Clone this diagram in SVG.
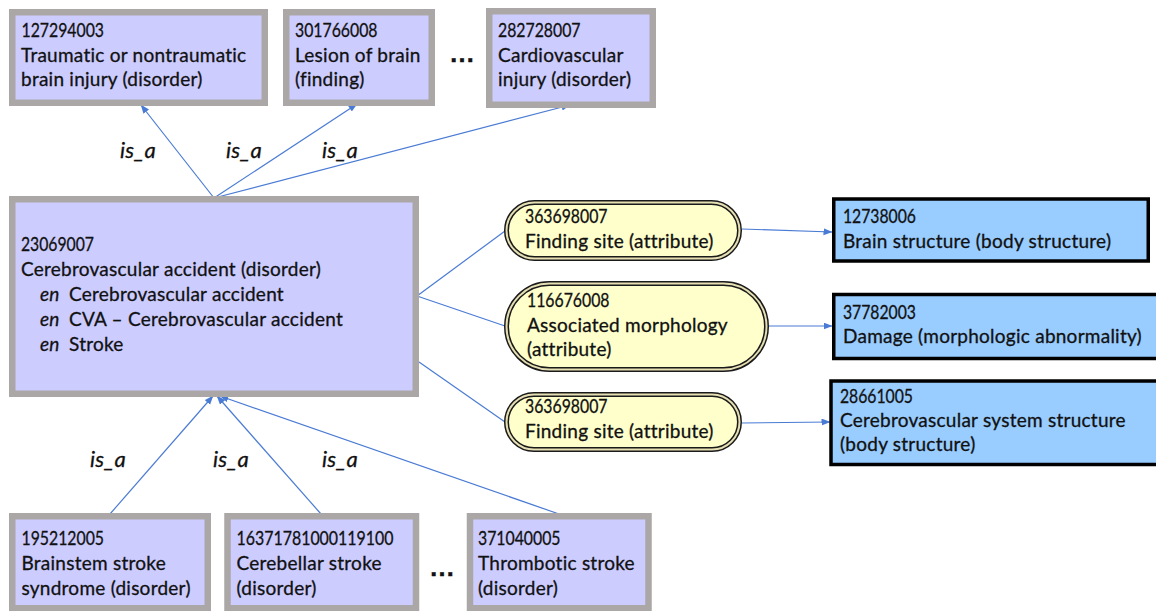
<svg xmlns="http://www.w3.org/2000/svg" width="1156" height="611" viewBox="0 0 1156 611">
  <style>
    text { font-family: Lato, "Open Sans", "Liberation Sans", sans-serif; font-size: 19px; letter-spacing: 0.25px; fill: #111; stroke: #111; stroke-width: 0.3px; }
    .num { letter-spacing: 0; }
    .it { font-style: italic; }
    .rel { font-style: italic; font-size: 22px; }
    .dots { font-family: "Liberation Sans", sans-serif; font-weight: bold; font-size: 26px; }
    .concept { fill: #CCCCFF; stroke: #ABA7A6; stroke-width: 6.5; }
    .attr-outer { fill: #FFFFCC; stroke: #1a1a1a; stroke-width: 5; }
    .attr-inner { fill: none; stroke: #E6DFB4; stroke-width: 2; }
    .target { fill: #99CCFF; stroke: #000; stroke-width: 3.5; }
    .link { stroke: #4A7BD4; stroke-width: 1.2; fill: none; }
    .arrow { marker-end: url(#head); }
  </style>
  <defs>
    <marker id="head" markerUnits="userSpaceOnUse" markerWidth="9" markerHeight="8" refX="8.5" refY="3.5" orient="auto">
      <path d="M0,0 L9,3.5 L0,7 z" fill="#4A7BD4"/>
    </marker>
  </defs>

  <!-- connectors -->
  <g id="connectors">
    <line class="link arrow" x1="214" y1="198" x2="141" y2="105"/>
    <line class="link arrow" x1="214" y1="198" x2="357" y2="104"/>
    <line class="link arrow" x1="214" y1="198" x2="570" y2="105"/>
    <line class="link arrow" x1="110" y1="514" x2="213" y2="396"/>
    <line class="link arrow" x1="321" y1="514" x2="217" y2="396"/>
    <line class="link arrow" x1="559" y1="514" x2="220" y2="396"/>
    <line class="link" x1="417" y1="296" x2="505" y2="231"/>
    <line class="link" x1="417" y1="296" x2="505" y2="326"/>
    <line class="link" x1="419" y1="362" x2="505" y2="422"/>
    <line class="link arrow" x1="742" y1="229" x2="832" y2="232"/>
    <line class="link arrow" x1="769" y1="326" x2="832" y2="326"/>
    <line class="link arrow" x1="742" y1="423" x2="830" y2="422"/>
    <text class="rel" x="120" y="158">is_a</text>
    <text class="rel" x="226" y="158">is_a</text>
    <text class="rel" x="322" y="158">is_a</text>
    <text class="rel" x="90" y="467">is_a</text>
    <text class="rel" x="213" y="467">is_a</text>
    <text class="rel" x="322" y="467">is_a</text>
  </g>

  <!-- parent concepts -->
  <g id="n127294003">
    <rect class="concept" x="12.25" y="12.25" width="252.5" height="90.5"/>
    <text class="num" x="21.5" y="37" textLength="82.5" lengthAdjust="spacingAndGlyphs">127294003</text>
    <text x="21" y="62">Traumatic or nontraumatic</text>
    <text x="21" y="86">brain injury (disorder)</text>
  </g>
  <g id="n301766008">
    <rect class="concept" x="286.25" y="12.25" width="145.5" height="90.5"/>
    <text class="num" x="295" y="37" textLength="82.5" lengthAdjust="spacingAndGlyphs">301766008</text>
    <text x="295" y="62">Lesion of brain</text>
    <text x="295" y="86">(finding)</text>
  </g>
  <text class="dots" x="449" y="62">…</text>
  <g id="n282728007">
    <rect class="concept" x="489.25" y="11.25" width="163.5" height="93.5"/>
    <text class="num" x="498" y="37" textLength="82.5" lengthAdjust="spacingAndGlyphs">282728007</text>
    <text x="498" y="62">Cardiovascular</text>
    <text x="498" y="86">injury (disorder)</text>
  </g>

  <!-- focus concept -->
  <g id="n23069007">
    <rect class="concept" x="12.25" y="199.25" width="403.5" height="194.5"/>
    <text class="num" x="21" y="251" textLength="73" lengthAdjust="spacingAndGlyphs">23069007</text>
    <text x="21" y="276">Cerebrovascular accident (disorder)</text>
    <text class="it" x="40" y="301">en</text>
    <text x="69" y="301">Cerebrovascular accident</text>
    <text class="it" x="40" y="326">en</text>
    <text x="69" y="326">CVA – Cerebrovascular accident</text>
    <text class="it" x="40" y="351">en</text>
    <text x="69" y="351">Stroke</text>
  </g>

  <!-- attributes -->
  <g id="attr-finding-site-1">
    <rect class="attr-outer" x="506.5" y="202.5" width="233" height="56" rx="28"/>
    <rect class="attr-inner" x="506.5" y="202.5" width="233" height="56" rx="28"/>
    <text class="num" x="525" y="223" textLength="82.5" lengthAdjust="spacingAndGlyphs">363698007</text>
    <text x="525" y="248">Finding site (attribute)</text>
  </g>
  <g id="attr-morphology">
    <rect class="attr-outer" x="506.5" y="283.5" width="260" height="86" rx="43"/>
    <rect class="attr-inner" x="506.5" y="283.5" width="260" height="86" rx="43"/>
    <text class="num" x="527" y="307" textLength="82.5" lengthAdjust="spacingAndGlyphs">116676008</text>
    <text x="527" y="332">Associated morphology</text>
    <text x="527" y="356">(attribute)</text>
  </g>
  <g id="attr-finding-site-2">
    <rect class="attr-outer" x="506.5" y="394.5" width="233" height="55" rx="27.5"/>
    <rect class="attr-inner" x="506.5" y="394.5" width="233" height="55" rx="27.5"/>
    <text class="num" x="525" y="413" textLength="82.5" lengthAdjust="spacingAndGlyphs">363698007</text>
    <text x="525" y="438">Finding site (attribute)</text>
  </g>

  <!-- attribute values -->
  <g id="n12738006">
    <rect class="target" x="833.75" y="199" width="314.5" height="62"/>
    <text class="num" x="843" y="223" textLength="73" lengthAdjust="spacingAndGlyphs">12738006</text>
    <text x="843" y="248">Brain structure (body structure)</text>
  </g>
  <g id="n37782003">
    <rect class="target" x="833.75" y="294.5" width="340" height="64"/>
    <text class="num" x="843" y="319" textLength="73" lengthAdjust="spacingAndGlyphs">37782003</text>
    <text x="843" y="343">Damage (morphologic abnormality)</text>
  </g>
  <g id="n28661005">
    <rect class="target" x="831" y="381" width="340" height="83.5"/>
    <text class="num" x="840" y="403" textLength="73" lengthAdjust="spacingAndGlyphs">28661005</text>
    <text x="840" y="427">Cerebrovascular system structure</text>
    <text x="840" y="451">(body structure)</text>
  </g>

  <!-- child concepts -->
  <g id="n195212005">
    <rect class="concept" x="12.25" y="516.25" width="195.5" height="92"/>
    <text class="num" x="21.5" y="545" textLength="82.5" lengthAdjust="spacingAndGlyphs">195212005</text>
    <text x="21.5" y="570">Brainstem stroke</text>
    <text x="21.5" y="595">syndrome (disorder)</text>
  </g>
  <g id="n16371781000119100">
    <rect class="concept" x="227.5" y="516.25" width="188.5" height="92"/>
    <text class="num" x="236.5" y="545" textLength="157" lengthAdjust="spacingAndGlyphs">16371781000119100</text>
    <text x="236.5" y="570">Cerebellar stroke</text>
    <text x="236.5" y="595">(disorder)</text>
  </g>
  <text class="dots" x="429" y="576">…</text>
  <g id="n371040005">
    <rect class="concept" x="470" y="516.25" width="178.5" height="92"/>
    <text class="num" x="478" y="545" textLength="82.5" lengthAdjust="spacingAndGlyphs">371040005</text>
    <text x="478" y="570">Thrombotic stroke</text>
    <text x="478" y="595">(disorder)</text>
  </g>
</svg>
